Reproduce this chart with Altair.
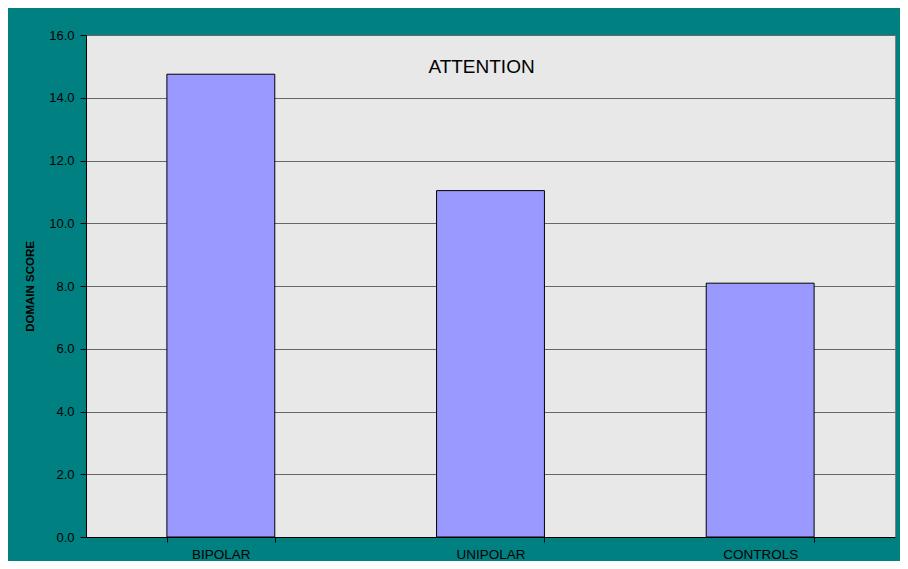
import altair as alt
import pandas as pd

groups = ["BIPOLAR", "UNIPOLAR", "CONTROLS"]
scores = [14.75, 11.04, 8.09]
y_ticks = [0, 2, 4, 6, 8, 10, 12, 14, 16]

df = pd.DataFrame({"group": groups, "score": scores})

FONT = "Liberation Sans"

chart = (
    alt.Chart(df)
    .mark_bar(color="#9999FF", stroke="#000000", strokeWidth=1)
    .encode(
        x=alt.X(
            "group:N",
            sort=groups,
            title=None,
            scale=alt.Scale(paddingInner=0.6, paddingOuter=0.3),
            axis=alt.Axis(
                labelAngle=0,
                labelFont=FONT,
                labelFontSize=13.5,
                labelColor="#000000",
                labelPadding=5,
                tickBand="extent",
                tickSize=5,
                tickColor="#000000",
                domainColor="#000000",
                grid=False,
            ),
        ),
        y=alt.Y(
            "score:Q",
            title="DOMAIN SCORE",
            scale=alt.Scale(domain=[0, 16], nice=False),
            axis=alt.Axis(
                values=y_ticks,
                format=".1f",
                labelFont=FONT,
                labelFontSize=13,
                labelColor="#000000",
                labelPadding=6,
                tickSize=6,
                tickColor="#000000",
                domainColor="#000000",
                grid=True,
                gridColor="#666666",
                gridWidth=1,
                titleFont=FONT,
                titleFontSize=11.5,
                titleFontWeight="bold",
                titleColor="#000000",
                titleX=-56,
                titleAlign="center",
                titleBaseline="middle",
            ),
        ),
    )
    .properties(
        width=809,
        height=502,
        background="#008080",
        padding={"left": 78, "top": 27, "right": 5, "bottom": 24},
        autosize=alt.AutoSizeParams(type="none"),
        title=alt.TitleParams(
            "ATTENTION",
            font=FONT,
            fontSize=19,
            fontWeight="normal",
            color="#000000",
            baseline="alphabetic",
            offset=0,
            dx=-9,
            dy=63,
        ),
    )
    .configure_view(fill="#e8e8e8", stroke="#808080", strokeWidth=1)
)

chart.save("out.html", embed_options={"renderer": "svg", "actions": False})
